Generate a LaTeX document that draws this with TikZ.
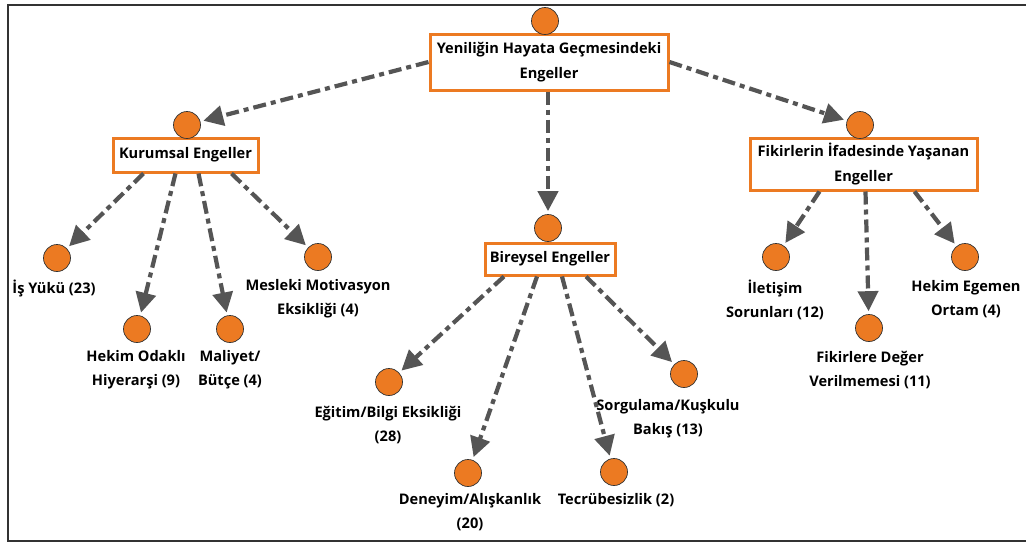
\documentclass[tikz,border=0pt]{standalone}
\usepackage{fontspec}
\setmainfont{Open Sans}
\usetikzlibrary{arrows.meta}
\definecolor{org}{HTML}{EC7A22}
\definecolor{cline}{HTML}{555555}
\tikzset{
  dot/.style={circle,fill=org,draw=black!80,line width=0.7pt,minimum size=27pt,inner sep=0pt},
  catbox/.style={draw=org,line width=3pt,fill=white,inner sep=0pt,align=center,font=\fontsize{14.6}{25}\selectfont\bfseries},
  lbl/.style={align=center,inner sep=0pt,font=\fontsize{14.6}{24}\selectfont\bfseries},
  conn/.style={draw=cline,line width=4.2pt,dash pattern=on 13pt off 5pt on 5pt off 5pt,
    -{Triangle[length=20pt,width=20pt]},shorten >=3pt},
}
\begin{document}
\begin{tikzpicture}[x=1pt,y=-1pt]
\useasboundingbox (0,0) rectangle (1026,542);
\begin{scope}
\clip (0,0) rectangle (1026,542);
\draw[line width=2.6pt,black!80] (8,5) rectangle (1040,541);
\end{scope}
% category boxes
\node[catbox,minimum width=238pt,minimum height=56pt] (root) at (549,62) {Yeniliğin Hayata Geçmesindeki\\Engeller};
\node[dot] (rc) at (545,21) {};
\node[catbox,minimum width=145pt,minimum height=34pt] (kb) at (185.5,155) {Kurumsal Engeller};
\node[dot] (kc) at (187,125) {};
\node[catbox,minimum width=227pt,minimum height=52pt] (fb) at (863.5,164) {Fikirlerin İfadesinde Yaşanan\\Engeller};
\node[dot] (fc) at (860,125) {};
\node[catbox,minimum width=130pt,minimum height=32pt] (bb) at (550,259) {Bireysel Engeller};
\node[dot] (bc) at (548,228) {};
% leaves
\node[dot] (l1) at (57,258) {};
\node[lbl] (t1) at (54,288) {İş Yükü (23)};
\node[dot] (l2) at (137,329) {};
\node[lbl] (t2) at (136,370) {Hekim Odaklı\\Hiyerarşi (9)};
\node[dot] (l3) at (230,329) {};
\node[lbl] (t3) at (230,370) {Maliyet/\\Bütçe (4)};
\node[dot] (l4) at (318,257) {};
\node[lbl] (t4) at (318,299) {Mesleki Motivasyon\\Eksikliği (4)};
\node[dot] (l5) at (389,382) {};
\node[lbl] (t5) at (388,425) {Eğitim/Bilgi Eksikliği\\(28)};
\node[dot] (l6) at (468,473) {};
\node[lbl] (t6) at (470,512) {Deneyim/Alışkanlık\\(20)};
\node[dot] (l7) at (614,472) {};
\node[lbl] (t7) at (616,500) {Tecrübesizlik (2)};
\node[dot] (l8) at (684,374) {};
\node[lbl] (t8) at (668,418.5) {Sorgulama/Kuşkulu\\Bakış (13)};
\node[dot] (l9) at (776,257) {};
\node[lbl] (t9) at (775,299.5) {İletişim\\Sorunları (12)};
\node[dot] (l10) at (869,328) {};
\node[lbl] (t10) at (870,370) {Fikirlere Değer\\Verilmemesi (11)};
\node[dot] (l11) at (965,257) {};
\node[lbl] (t11) at (966,299.5) {Hekim Egemen\\Ortam (4)};
% connectors
\draw[conn] (root.west) -- (kc);
\draw[conn] (root.east) -- (fc);
\draw[conn] (root.south -| bc) -- (bc);
\draw[conn] ([xshift=-42pt]kb.south) -- (l1);
\draw[conn] ([xshift=-10pt]kb.south) -- (l2);
\draw[conn] ([xshift=13pt]kb.south) -- (l3);
\draw[conn] ([xshift=46pt]kb.south) -- (l4);
\draw[conn] ([xshift=-46pt]bb.south) -- (l5);
\draw[conn] ([xshift=-13pt]bb.south) -- (l6);
\draw[conn] ([xshift=12pt]bb.south) -- (l7);
\draw[conn] ([xshift=36pt]bb.south) -- (l8);
\draw[conn] ([xshift=-44pt]fb.south) -- (l9);
\draw[conn] ([xshift=2pt]fb.south) -- (l10);
\draw[conn] ([xshift=51pt]fb.south) -- (l11);
\end{tikzpicture}
\end{document}
